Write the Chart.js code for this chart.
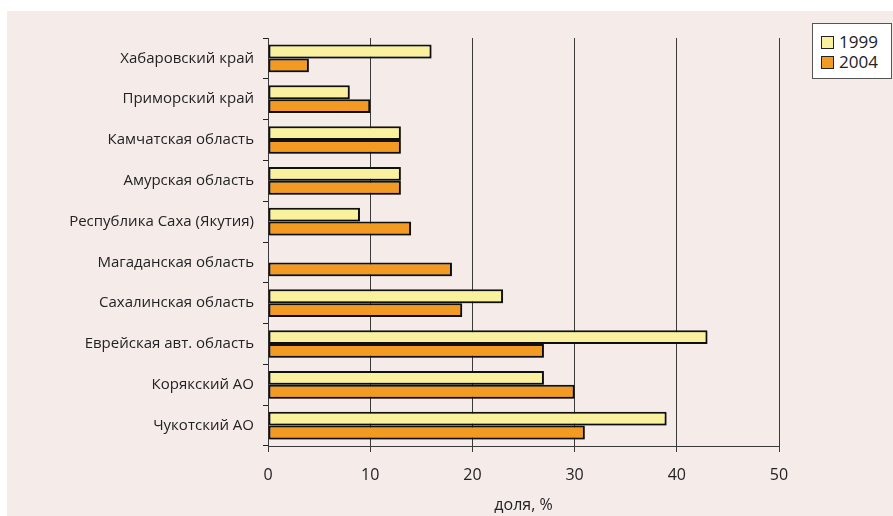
<!DOCTYPE html>
<html>
<head>
<meta charset="utf-8">
<script src="https://cdn.jsdelivr.net/npm/chart.js@4.4.1/dist/chart.umd.min.js"></script>
<style>
  html, body { margin: 0; padding: 0; background: #ffffff; overflow: hidden; }
  #wrap {
    position: absolute; left: 7px; top: 11px;
    width: 886px; height: 505px;
    background: #f5ecea;
  }
  #chart { display: block; }
  #legend {
    position: absolute; left: 805px; top: 12px;
    width: 78px; height: 54px;
    background: #ffffff; border: 1px solid #555;
    font-family: "Open Sans", sans-serif; font-size: 17px; color: #222;
  }
  #legend .item { position: absolute; left: 8px; height: 18px; line-height: 18px; }
  #legend .box {
    display: inline-block; width: 11px; height: 11px;
    border: 1px solid #222; vertical-align: -1px; margin-right: 5px;
  }
</style>
</head>
<body>
<div id="wrap">
  <canvas id="chart" width="886" height="505"></canvas>
  <div id="legend"></div>
</div>
<script>
// Regions of the Far East, top to bottom
const regions = [
  'Хабаровский край',
  'Приморский край',
  'Камчатская область',
  'Амурская область',
  'Республика Саха (Якутия)',
  'Магаданская область',
  'Сахалинская область',
  'Еврейская авт. область',
  'Корякский АО',
  'Чукотский АО'
];
const years = ['1999', '2004'];
const share1999 = [16, 8, 13, 13, 9, null, 23, 43, 27, 39];
const share2004 = [4, 10, 13, 13, 14, 18, 19, 27, 30, 31];
const xTicks = [0, 10, 20, 30, 40, 50];
const xTitle = 'доля, %';

const colors = ['#f9f19d', '#f39a22'];
const fontFamily = '"Open Sans", sans-serif';

// soft shadow under the bars
const barShadow = {
  id: 'barShadow',
  beforeDatasetsDraw(chart) {
    const ctx = chart.ctx;
    ctx.save();
    ctx.shadowColor = 'rgba(0,0,0,0.35)';
    ctx.shadowOffsetX = 1;
    ctx.shadowOffsetY = 1;
    ctx.shadowBlur = 1;
  },
  afterDatasetsDraw(chart) {
    chart.ctx.restore();
  }
};

const ctx = document.getElementById('chart').getContext('2d');
const chart = new Chart(ctx, {
  type: 'bar',
  data: {
    labels: regions,
    datasets: [
      {
        label: years[0],
        data: share1999,
        backgroundColor: colors[0],
        borderColor: '#111',
        borderWidth: 2,
        borderSkipped: false
      },
      {
        label: years[1],
        data: share2004,
        backgroundColor: colors[1],
        borderColor: '#111',
        borderWidth: 2,
        borderSkipped: false
      }
    ]
  },
  options: {
    indexAxis: 'y',
    responsive: false,
    animation: false,
    categoryPercentage: 0.68,
    barPercentage: 1,
    layout: {
      padding: { left: 5, top: 27, right: 114, bottom: 0 }
    },
    plugins: {
      legend: { display: false },
      tooltip: { enabled: false }
    },
    scales: {
      x: {
        min: xTicks[0],
        max: xTicks[xTicks.length - 1],
        afterBuildTicks: s => { s.ticks = xTicks.map(v => ({ value: v })); },
        afterFit: s => { s.height = 70; },
        grid: { color: '#3a3a3a', lineWidth: 1, tickLength: 6 },
        border: { display: true, color: '#3a3a3a', width: 1 },
        ticks: {
          padding: 14,
          color: '#222',
          font: { family: fontFamily, size: 16 }
        },
        title: {
          display: true,
          text: xTitle,
          color: '#222',
          padding: { top: 12, bottom: 1 },
          font: { family: fontFamily, size: 16 }
        }
      },
      y: {
        afterFit: s => { s.width = 256; },
        grid: { drawOnChartArea: false, color: '#222', tickLength: 5, offset: true },
        border: { display: true, color: '#3a3a3a', width: 1 },
        ticks: {
          padding: 9,
          color: '#222',
          font: { family: fontFamily, size: 15 }
        }
      }
    }
  },
  plugins: [barShadow]
});

// legend drawn as html next to the plot
const legend = document.getElementById('legend');
years.forEach((y, i) => {
  const item = document.createElement('div');
  item.className = 'item';
  item.style.top = (9 + i * 20) + 'px';
  item.innerHTML = '<span class="box" style="background:' + colors[i] + '"></span>' + y;
  legend.appendChild(item);
});
</script>
</body>
</html>
